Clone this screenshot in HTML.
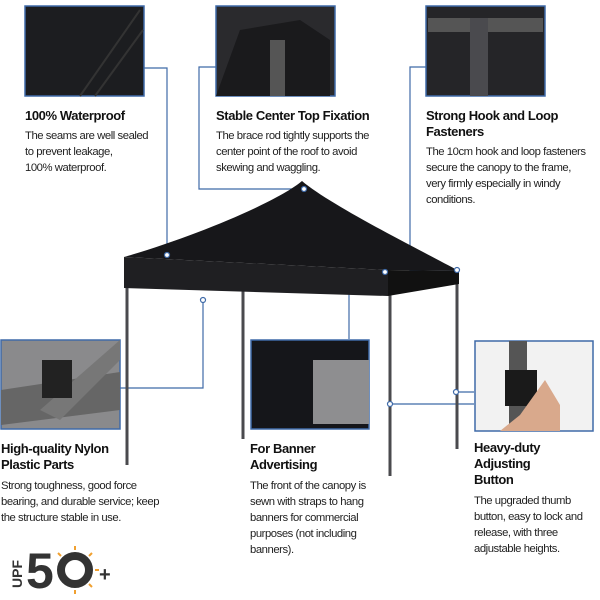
<!DOCTYPE html>
<html><head><meta charset="utf-8"><style>
body{margin:0;background:#fff;}
svg{display:block;font-family:"Liberation Sans",sans-serif;}
.t{font-size:13px;font-weight:bold;fill:#111;letter-spacing:-0.4px}
.d{font-size:11.3px;fill:#222;letter-spacing:-0.45px}
.l{stroke:#3f6aa8;stroke-width:1.2;fill:none}
.p{stroke:#3f6aa8;stroke-width:1.5}
.dot{fill:#fff;stroke:#3f6aa8;stroke-width:1.2}
</style></head><body>
<svg width="600" height="600" viewBox="0 0 600 600">
<rect width="600" height="600" fill="#fff"/>
<!-- connectors -->
<polyline class="l" points="144,68 167,68 167,255"/>
<polyline class="l" points="216,67 199,67 199,189 304,189"/>
<polyline class="l" points="426,67 410,67 410,270 457,270"/>
<polyline class="l" points="120,388 203,388 203,300"/>
<polyline class="l" points="349,339 349,272 385,272"/>
<polyline class="l" points="474,404 390,404"/>
<polyline class="l" points="474,392 456,392"/>
<!-- legs -->
<g stroke="#4a4a4e" stroke-width="3">
<line x1="127" y1="285" x2="127" y2="465"/>
<line x1="243" y1="290" x2="243" y2="439"/>
<line x1="390" y1="294" x2="390" y2="476"/>
<line x1="457" y1="282" x2="457" y2="449"/>
</g>
<!-- canopy -->
<path d="M302,181 C280,200 200,235 124,257 L388,270 L459,271 C420,250 330,205 302,181Z" fill="#17171a"/>
<path d="M124,257 L388,270 L388,296 L124,288Z" fill="#1f1f22"/>
<path d="M388,270 L459,271 L459,284 L388,296Z" fill="#111"/>
<!-- dots -->
<circle class="dot" cx="167" cy="255" r="2.5"/>
<circle class="dot" cx="304" cy="189" r="2.5"/>
<circle class="dot" cx="457" cy="270" r="2.5"/>
<circle class="dot" cx="203" cy="300" r="2.5"/>
<circle class="dot" cx="385" cy="272" r="2.5"/>
<circle class="dot" cx="390" cy="404" r="2.5"/>
<circle class="dot" cx="456" cy="392" r="2.5"/>
<!-- top panels -->
<rect class="p" x="25" y="6" width="119" height="90" fill="#1c1d20"/>
<path d="M80,96 L140,10 M95,96 L143,30" stroke="#333" stroke-width="2"/>
<rect class="p" x="216" y="6" width="119" height="90" fill="#2a2a2d"/>
<path d="M240,30 L300,20 L330,40 L330,96 L216,96 Z" fill="#1a1a1c"/>
<rect x="270" y="40" width="15" height="56" fill="#555"/>
<rect class="p" x="426" y="6" width="119" height="90" fill="#252528"/>
<rect x="428" y="18" width="115" height="14" fill="#555"/>
<rect x="470" y="18" width="18" height="78" fill="#4a4a4e"/>
<!-- middle panels -->
<rect class="p" x="1" y="340" width="119" height="89" fill="#8a8a8c"/>
<path d="M1,390 L120,372 L120,410 L1,425Z" fill="#666"/>
<path d="M40,410 L120,340 L120,360 L60,420Z" fill="#777"/>
<rect x="42" y="360" width="30" height="38" fill="#222"/>
<rect class="p" x="251" y="340" width="118" height="89" fill="#15161a"/>
<rect x="313" y="360" width="56" height="64" fill="#8e8e90"/>
<rect class="p" x="475" y="341" width="118" height="90" fill="#f2f2f2"/>
<rect x="509" y="341" width="18" height="90" fill="#555"/>
<rect x="505" y="370" width="32" height="36" fill="#1a1a1a"/>
<path d="M520,415 L545,380 L560,405 L560,431 L500,431Z" fill="#d9a98c"/>
<!-- text -->
<text class="t" x="25" y="120">100% Waterproof</text>
<text class="d" x="25" y="139">The seams are well sealed</text>
<text class="d" x="25" y="155">to prevent leakage,</text>
<text class="d" x="25" y="171">100% waterproof.</text>
<text class="t" x="216" y="120">Stable Center Top Fixation</text>
<text class="d" x="216" y="139">The brace rod tightly supports the</text>
<text class="d" x="216" y="155">center point of the roof to avoid</text>
<text class="d" x="216" y="171">skewing and waggling.</text>
<text class="t" x="426" y="120">Strong Hook and Loop</text>
<text class="t" x="426" y="136">Fasteners</text>
<text class="d" x="426" y="155">The 10cm hook and loop fasteners</text>
<text class="d" x="426" y="171">secure the canopy to the frame,</text>
<text class="d" x="426" y="187">very firmly especially in windy</text>
<text class="d" x="426" y="203">conditions.</text>
<text class="t" x="1" y="453">High-quality Nylon</text>
<text class="t" x="1" y="469">Plastic Parts</text>
<text class="d" x="1" y="489">Strong toughness, good force</text>
<text class="d" x="1" y="505">bearing, and durable service; keep</text>
<text class="d" x="1" y="521">the structure stable in use.</text>
<text class="t" x="250" y="453">For Banner</text>
<text class="t" x="250" y="469">Advertising</text>
<text class="d" x="250" y="489">The front of the canopy is</text>
<text class="d" x="250" y="505">sewn with straps to hang</text>
<text class="d" x="250" y="521">banners for commercial</text>
<text class="d" x="250" y="537">purposes (not including</text>
<text class="d" x="250" y="553">banners).</text>
<text class="t" x="474" y="452">Heavy-duty</text>
<text class="t" x="474" y="468">Adjusting</text>
<text class="t" x="474" y="484">Button</text>
<text class="d" x="474" y="504">The upgraded thumb</text>
<text class="d" x="474" y="520">button, easy to lock and</text>
<text class="d" x="474" y="536">release, with three</text>
<text class="d" x="474" y="552">adjustable heights.</text>
<!-- UPF -->
<text x="0" y="0" transform="translate(22,588) rotate(-90)" font-size="14" font-weight="bold" fill="#333">UPF</text>
<text x="26" y="588" font-size="50" font-weight="bold" fill="#333" letter-spacing="-3">5</text>
<circle cx="75" cy="570" r="14" fill="none" stroke="#333" stroke-width="8"/>
<g stroke="#f0a030" stroke-width="2">
<line x1="75" y1="546" x2="75" y2="550"/><line x1="75" y1="590" x2="75" y2="594"/>
<line x1="92" y1="553" x2="89" y2="556"/><line x1="92" y1="587" x2="89" y2="584"/>
<line x1="99" y1="570" x2="95" y2="570"/><line x1="58" y1="553" x2="61" y2="556"/>
</g>
<text x="99" y="581" font-size="20" font-weight="bold" fill="#333">+</text>
</svg>
</body></html>
